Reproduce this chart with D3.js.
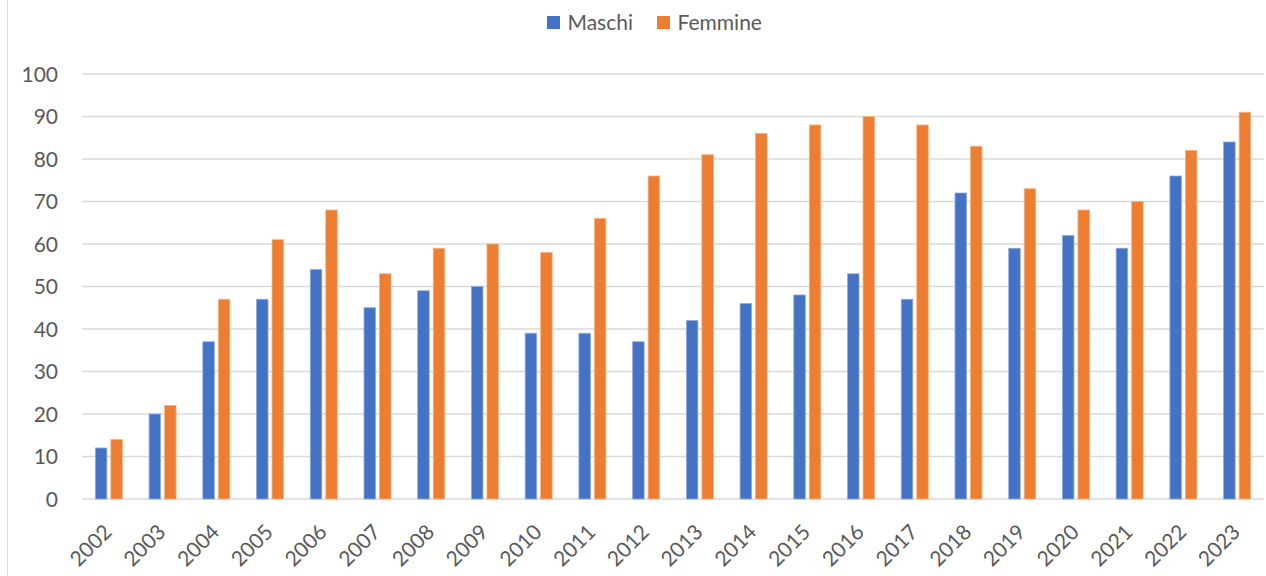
<!DOCTYPE html>
<html><head><meta charset="utf-8">
<script src="https://cdn.jsdelivr.net/npm/d3@7"></script>
<style>body{margin:0;background:#fff}svg{display:block}text{font-family:Lato,"Open Sans",sans-serif;fill:#595959}</style>
</head><body><svg id="c" width="1266" height="576"></svg>
<script>
const years = ["2002","2003","2004","2005","2006","2007","2008","2009","2010","2011","2012","2013","2014","2015","2016","2017","2018","2019","2020","2021","2022","2023"];
const maschi = [12,20,37,47,54,45,49,50,39,39,37,42,46,48,53,47,72,59,62,59,76,84];
const femmine = [14,22,47,61,68,53,59,60,58,66,76,81,86,88,90,88,83,73,68,70,82,91];
const seriesNames = ["Maschi","Femmine"];
const colors = ["#4472C4","#ED7D31"];
const yTicks = [0,10,20,30,40,50,60,70,80,90,100];

const svg = d3.select("#c");
const m = {l:82, r:1264, t:74, b:499};
const x = d3.scaleBand().domain(years).range([m.l, m.r]);
const y = d3.scaleLinear().domain([0,100]).range([m.b, m.t]);

svg.append("line").attr("x1",7.5).attr("x2",7.5).attr("y1",0).attr("y2",576).attr("stroke","#d9d9d9");

svg.append("g").selectAll("line").data(yTicks).join("line")
  .attr("x1",m.l).attr("x2",m.r).attr("y1",d=>y(d)).attr("y2",d=>y(d))
  .attr("stroke","#d9d9d9").attr("stroke-width",1.3);

svg.append("g").selectAll("text").data(yTicks).join("text")
  .attr("x",58).attr("y",d=>y(d)).attr("dy","0.36em").attr("text-anchor","end")
  .attr("font-size",21).text(d=>d);

const bw = 11.5, gap = 4;
const series = [maschi, femmine];
series.forEach((vals,si)=>{
  svg.append("g").selectAll("rect").data(vals).join("rect")
    .attr("x",(d,i)=>x(years[i]) + x.bandwidth()/2 + (si===0 ? -gap/2-bw : gap/2))
    .attr("y",d=>y(d)).attr("width",bw).attr("height",d=>y(0)-y(d))
    .attr("fill",colors[si]).attr("stroke", si===0?"#8faadc":"#f4b183").attr("stroke-width",0.8);
});

svg.append("g").selectAll("text").data(years).join("text")
  .attr("transform",d=>`translate(${x(d)+x.bandwidth()/2-1},${528}) rotate(-45)`)
  .attr("text-anchor","end").attr("dy","0.36em").attr("font-size",21).text(d=>d);

const lg = svg.append("g");
const lx = [547, 657];
seriesNames.forEach((n,i)=>{
  lg.append("rect").attr("x",lx[i]).attr("y",16).attr("width",13).attr("height",13).attr("fill",colors[i]);
  lg.append("text").attr("x",lx[i]+20.5).attr("y",22.5).attr("dy","0.36em").attr("font-size",21).text(n);
});
</script></body></html>
